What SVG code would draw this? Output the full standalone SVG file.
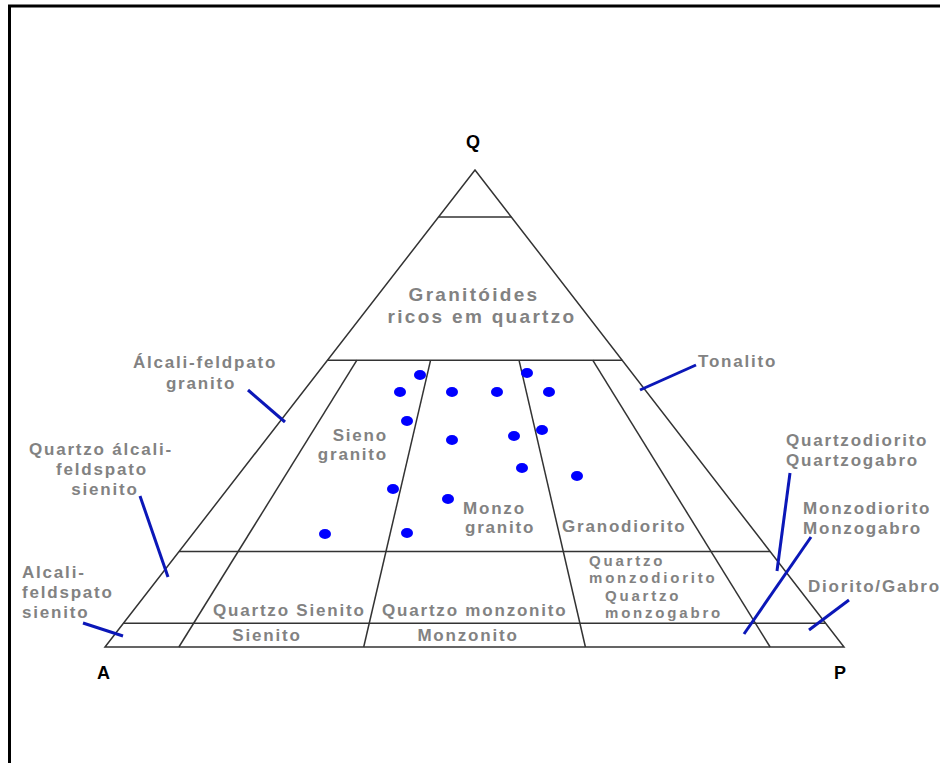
<svg xmlns="http://www.w3.org/2000/svg" width="940" height="763" viewBox="0 0 940 763">
<style>
.ln{stroke:#333;stroke-width:1.5;fill:none}
.lbl{font-family:"Liberation Sans",Arial,sans-serif;font-weight:bold;font-size:17px;fill:#828282;letter-spacing:1.8px}
.big{font-size:19px;letter-spacing:2.3px}
.sm{font-size:15px;letter-spacing:2.8px}
.ax{font-family:"Liberation Sans",Arial,sans-serif;font-weight:bold;font-size:18px;fill:#000}
.ld{stroke:#0b17b8;stroke-width:3;fill:none}
.dot{fill:#0000ff}
</style>
<rect width="940" height="763" fill="#fff"/>
<path d="M9.5,763 V6 H940" fill="none" stroke="#000" stroke-width="3"/>
<g id="triangle">
<path class="ln" d="M105,647 L475,170 L844,647 Z"/>
<line class="ln" x1="438.7" y1="217" x2="511.3" y2="217"/>
<line class="ln" x1="327.3" y1="360.2" x2="622.3" y2="360.2"/>
<line class="ln" x1="179" y1="551.6" x2="770" y2="551.6"/>
<line class="ln" x1="123.5" y1="623.2" x2="825.5" y2="623.2"/>
<line class="ln" x1="356.9" y1="360.2" x2="178.9" y2="647"/>
<line class="ln" x1="430.6" y1="360.2" x2="363.7" y2="647"/>
<line class="ln" x1="519" y1="360.2" x2="585.4" y2="647"/>
<line class="ln" x1="592.7" y1="360.2" x2="770.1" y2="647"/>
</g>
<g id="vertices">
<text class="ax" x="473" y="148" text-anchor="middle">Q</text>
<text class="ax" x="103.5" y="679" text-anchor="middle">A</text>
<text class="ax" x="840" y="679" text-anchor="middle">P</text>
</g>
<g id="granitoides">
<text class="lbl big" x="474" y="300.5" text-anchor="middle">Granitóides</text>
<text class="lbl big" x="482" y="323" text-anchor="middle">ricos em quartzo</text>
</g>
<g id="alcali-feldspato-granito">
<text class="lbl" x="205" y="368" text-anchor="middle">Álcali-feldpato</text>
<text class="lbl" x="201" y="388.5" text-anchor="middle">granito</text>
</g>
<g id="quartzo-alcali-feldspato-sienito">
<text class="lbl" x="101" y="455" text-anchor="middle">Quartzo álcali-</text>
<text class="lbl" x="102" y="475" text-anchor="middle">feldspato</text>
<text class="lbl" x="105" y="495" text-anchor="middle">sienito</text>
</g>
<g id="alcali-feldspato-sienito">
<text class="lbl" x="22" y="578">Alcali-</text>
<text class="lbl" x="22" y="598">feldspato</text>
<text class="lbl" x="22" y="618">sienito</text>
</g>
<g id="tonalito">
<text class="lbl" x="698" y="367">Tonalito</text>
</g>
<g id="quartzodiorito">
<text class="lbl" x="786" y="446">Quartzodiorito</text>
<text class="lbl" x="786" y="466">Quartzogabro</text>
</g>
<g id="monzodiorito">
<text class="lbl" x="803" y="514">Monzodiorito</text>
<text class="lbl" x="803" y="534">Monzogabro</text>
</g>
<g id="diorito-gabro">
<text class="lbl" x="808" y="592">Diorito/Gabro</text>
</g>
<g id="sienogranito">
<text class="lbl" x="388" y="441" text-anchor="end">Sieno</text>
<text class="lbl" x="388" y="460" text-anchor="end">granito</text>
</g>
<g id="monzogranito">
<text class="lbl" x="463" y="514">Monzo</text>
<text class="lbl" x="465" y="533">granito</text>
</g>
<g id="granodiorito">
<text class="lbl" x="562" y="532">Granodiorito</text>
</g>
<g id="quartzo-monzodiorito">
<text class="lbl sm" x="589" y="566">Quartzo</text>
<text class="lbl sm" x="589" y="583">monzodiorito</text>
<text class="lbl sm" x="605" y="601">Quartzo</text>
<text class="lbl sm" x="605" y="618">monzogabro</text>
</g>
<g id="quartzo-sienito">
<text class="lbl" x="213" y="616">Quartzo Sienito</text>
</g>
<g id="quartzo-monzonito">
<text class="lbl" x="382" y="616">Quartzo monzonito</text>
</g>
<g id="sienito">
<text class="lbl" x="267" y="641" text-anchor="middle">Sienito</text>
</g>
<g id="monzonito">
<text class="lbl" x="468" y="641" text-anchor="middle">Monzonito</text>
</g>
<g id="samples">
<ellipse class="dot" cx="420" cy="375" rx="6" ry="5"/>
<ellipse class="dot" cx="400" cy="392" rx="6" ry="5"/>
<ellipse class="dot" cx="452" cy="392" rx="6" ry="5"/>
<ellipse class="dot" cx="497" cy="392" rx="6" ry="5"/>
<ellipse class="dot" cx="527" cy="373" rx="6" ry="5"/>
<ellipse class="dot" cx="549" cy="392" rx="6" ry="5"/>
<ellipse class="dot" cx="407" cy="421" rx="6" ry="5"/>
<ellipse class="dot" cx="452" cy="440" rx="6" ry="5"/>
<ellipse class="dot" cx="514" cy="436" rx="6" ry="5"/>
<ellipse class="dot" cx="542" cy="430" rx="6" ry="5"/>
<ellipse class="dot" cx="522" cy="468" rx="6" ry="5"/>
<ellipse class="dot" cx="577" cy="476" rx="6" ry="5"/>
<ellipse class="dot" cx="393" cy="489" rx="6" ry="5"/>
<ellipse class="dot" cx="448" cy="499" rx="6" ry="5"/>
<ellipse class="dot" cx="325" cy="534" rx="6" ry="5"/>
<ellipse class="dot" cx="407" cy="533" rx="6" ry="5"/>
</g>
<g id="connectors">
<line class="ld" x1="248" y1="390" x2="285" y2="422"/>
<line class="ld" x1="140" y1="496" x2="168" y2="577"/>
<line class="ld" x1="83" y1="623" x2="123" y2="636"/>
<line class="ld" x1="696" y1="365" x2="640" y2="390"/>
<line class="ld" x1="790" y1="473" x2="777" y2="571"/>
<line class="ld" x1="811" y1="537" x2="744" y2="634"/>
<line class="ld" x1="849" y1="600" x2="809" y2="630"/>
</g>
</svg>
